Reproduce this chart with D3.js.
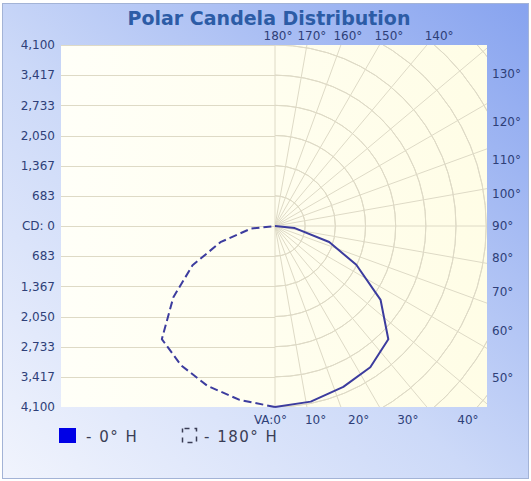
<!DOCTYPE html>
<html>
<head>
<meta charset="utf-8">
<script src="https://cdn.jsdelivr.net/npm/d3@7"></script>
<style>
  body { margin: 0; background: #fff; }
  svg { display: block; font-family: "DejaVu Sans", Verdana, sans-serif; }
</style>
</head>
<body>
<svg id="chart" width="531" height="481"></svg>
<script>
// vertical angles (deg from nadir) and candela for each horizontal plane
var vAngles = [0, 11.5, 23, 34, 45, 55, 64.5, 73.5, 84, 90];
var cd0 = [4100, 4060, 3960, 3860, 3630, 2920, 2040, 1280, 450, 0];
var cd180 = [4100, 4020, 3930, 3805, 3625, 2810, 2070, 1290, 545, 0];

var cdMax = 4100;
var cdTicks = [4100, 3417, 2733, 2050, 1367, 683, 0, -683, -1367, -2050, -2733, -3417, -4100];
var cdLabels = ['4,100', '3,417', '2,733', '2,050', '1,367', '683', 'CD: 0', '683', '1,367', '2,050', '2,733', '3,417', '4,100'];
var gridCd = [683, 1367, 2050, 2733, 3417, 4100, 4783, 5467, 6150];
var angleTicks = [0, 10, 20, 30, 40, 50, 60, 70, 80, 90, 100, 110, 120, 130, 140, 150, 160, 170, 180];
var seriesNames = ['- 0\u00b0 H', '- 180\u00b0 H'];

var W = 531, H = 481;
var plot = { left: 61, right: 487, top: 45, bottom: 407 };
var cx = 275, cy = (plot.top + plot.bottom) / 2;
var R = (plot.bottom - plot.top) / 2;
var rad = Math.PI / 180;

var svg = d3.select('#chart');
var defs = svg.append('defs');

var bg = defs.append('linearGradient').attr('id', 'bg')
  .attr('x1', 0).attr('y1', 1).attr('x2', 1).attr('y2', 0);
bg.append('stop').attr('offset', '0%').attr('stop-color', '#f1f4fd');
bg.append('stop').attr('offset', '45%').attr('stop-color', '#ccd9f8');
bg.append('stop').attr('offset', '100%').attr('stop-color', '#87a3ef');

var plotBg = defs.append('linearGradient').attr('id', 'plotbg')
  .attr('x1', 0).attr('y1', 0).attr('x2', 1).attr('y2', 0);
plotBg.append('stop').attr('offset', '0%').attr('stop-color', '#fffff8');
plotBg.append('stop').attr('offset', '100%').attr('stop-color', '#fffde6');

defs.append('clipPath').attr('id', 'clip').append('rect')
  .attr('x', plot.left).attr('y', plot.top)
  .attr('width', plot.right - plot.left).attr('height', plot.bottom - plot.top);

svg.append('rect').attr('x', 2.5).attr('y', 3.5).attr('width', W - 5).attr('height', H - 6)
  .attr('fill', 'url(#bg)').attr('stroke', '#a3b3d6');

svg.append('rect').attr('x', plot.left).attr('y', plot.top)
  .attr('width', plot.right - plot.left).attr('height', plot.bottom - plot.top)
  .attr('fill', 'url(#plotbg)');

var r = d3.scaleLinear().domain([0, cdMax]).range([0, R]);
var y = d3.scaleLinear().domain([cdMax, -cdMax]).range([plot.top, plot.bottom]);

var grid = svg.append('g').attr('clip-path', 'url(#clip)')
  .attr('stroke', '#dedac6').attr('stroke-width', 1).attr('fill', 'none');

// left half: plain horizontal lines
grid.selectAll('line.h').data(cdTicks).enter().append('line')
  .attr('class', 'h')
  .attr('x1', plot.left).attr('x2', cx)
  .attr('y1', function(d) { return Math.round(y(d)) + 0.5; })
  .attr('y2', function(d) { return Math.round(y(d)) + 0.5; });

// right half: candela circles
var arc = d3.arc().startAngle(0).endAngle(Math.PI);
grid.selectAll('path.ring').data(gridCd).enter().append('path')
  .attr('class', 'ring')
  .attr('transform', 'translate(' + cx + ',' + cy + ')')
  .attr('d', function(d) { return arc({ innerRadius: r(d), outerRadius: r(d) }); });

// right half: angle rays
grid.selectAll('line.ray').data(angleTicks).enter().append('line')
  .attr('class', 'ray')
  .attr('x1', cx).attr('y1', cy)
  .attr('x2', function(d) { return cx + 400 * Math.sin(d * rad); })
  .attr('y2', function(d) { return cy + 400 * Math.cos(d * rad); });

// candela labels on the left
svg.append('g').selectAll('text').data(cdTicks).enter().append('text')
  .attr('x', plot.left - 6)
  .attr('y', function(d) { return y(d); })
  .attr('dy', '0.35em')
  .attr('text-anchor', 'end')
  .attr('font-size', 12)
  .attr('fill', '#2e3f78')
  .text(function(d, i) { return cdLabels[i]; });

// angle labels round the right half
var angleG = svg.append('g').attr('font-size', 12).attr('fill', '#2e3f78');
angleTicks.forEach(function(a) {
  var t;
  if (a < 45) {
    t = angleG.append('text')
      .attr('x', cx + 230 * Math.tan(a * rad))
      .attr('y', plot.bottom + 17)
      .attr('text-anchor', 'middle')
      .text(a + '\u00b0');
    if (a === 0) {
      t.attr('x', cx + 12).attr('text-anchor', 'end').text('VA:' + a + '\u00b0');
    }
  } else if (a <= 135) {
    angleG.append('text')
      .attr('x', plot.right + 5)
      .attr('y', cy + R / Math.tan(a * rad))
      .attr('dy', '0.35em')
      .text(a + '\u00b0');
  } else {
    angleG.append('text')
      .attr('x', cx + 3 + 192 * Math.tan((180 - a) * rad))
      .attr('y', plot.top - 5)
      .attr('text-anchor', 'middle')
      .text(a + '\u00b0');
  }
});

// candela curves
var curve0 = d3.lineRadial()
  .angle(function(d, i) { return Math.PI - vAngles[i] * rad; })
  .radius(function(d) { return r(d); });
var curve180 = d3.lineRadial()
  .angle(function(d, i) { return Math.PI + vAngles[i] * rad; })
  .radius(function(d) { return r(d); });

var curves = svg.append('g').attr('transform', 'translate(' + cx + ',' + cy + ')')
  .attr('fill', 'none').attr('stroke', '#3c3c9e').attr('stroke-width', 2)
  .attr('stroke-linejoin', 'round');
curves.append('path').attr('d', curve0(cd0));
curves.append('path').attr('d', curve180(cd180)).attr('stroke-dasharray', '8,4');

// title
svg.append('text')
  .attr('x', 269).attr('y', 25)
  .attr('text-anchor', 'middle')
  .attr('font-size', 19).attr('font-weight', 'bold')
  .attr('fill', '#2c5ca6')
  .text('Polar Candela Distribution');

// legend
var legend = svg.append('g').attr('font-size', 15).attr('letter-spacing', 1.5).attr('fill', '#3a3d55');
legend.append('rect').attr('x', 59).attr('y', 428).attr('width', 17).attr('height', 15)
  .attr('fill', '#0000e6');
legend.append('text').attr('x', 86).attr('y', 442).text(seriesNames[0]);
legend.append('rect').attr('x', 182.5).attr('y', 428.5).attr('width', 14).attr('height', 14)
  .attr('fill', 'none').attr('stroke', '#3a3d55').attr('stroke-width', 1.5)
  .attr('stroke-dasharray', '5,5').attr('stroke-dashoffset', -2);
legend.append('text').attr('x', 204).attr('y', 442).text(seriesNames[1]);
</script>
</body>
</html>
